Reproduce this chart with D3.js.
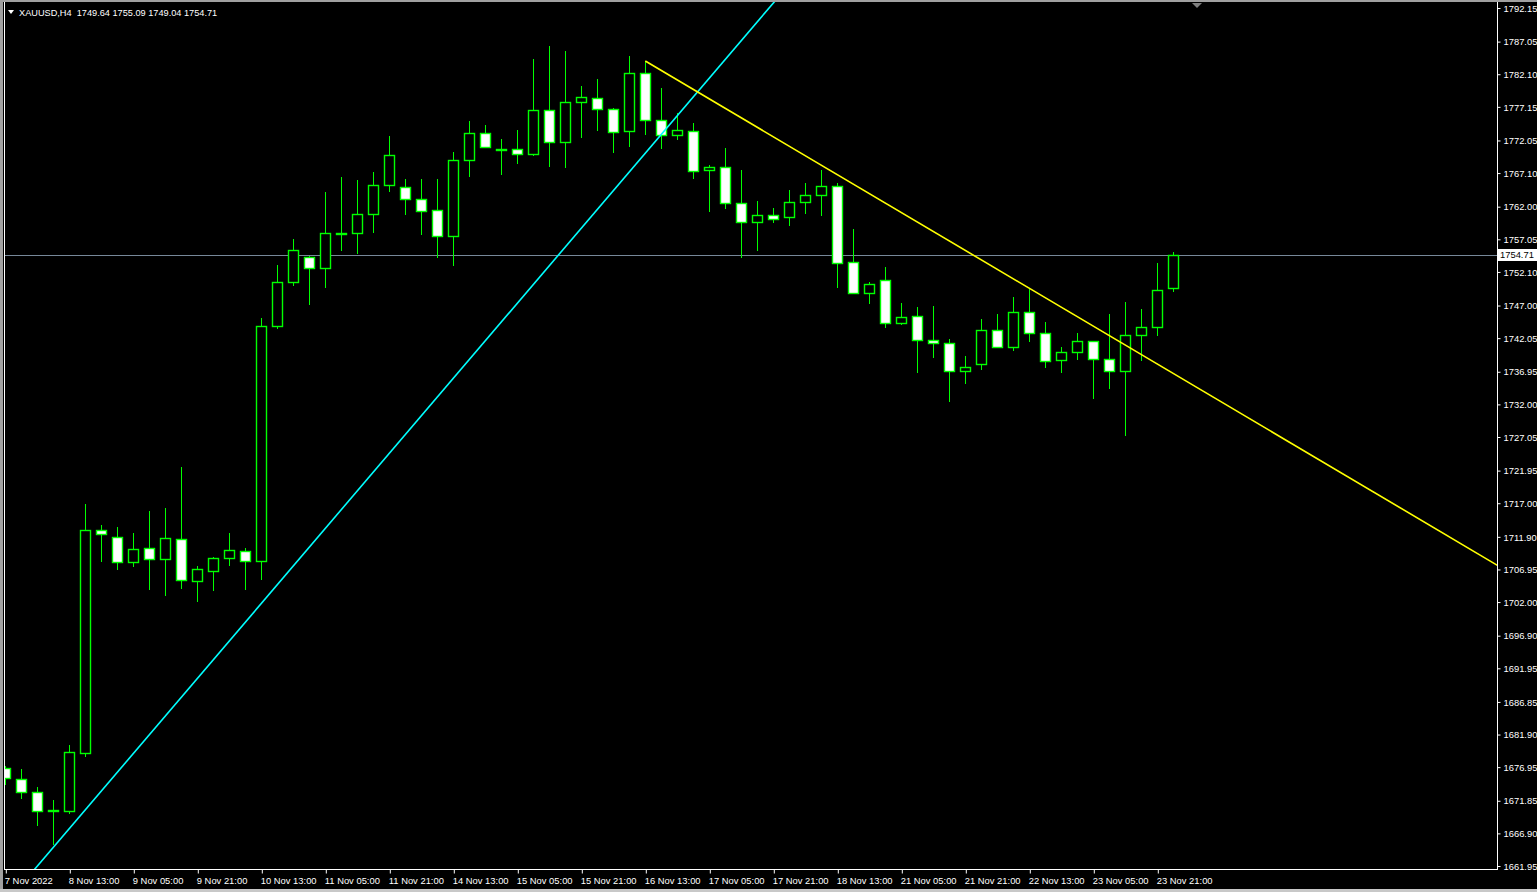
<!DOCTYPE html>
<html><head><meta charset="utf-8">
<script src="https://cdn.jsdelivr.net/npm/d3@7"></script>
<style>html,body{margin:0;padding:0;background:#000;overflow:hidden}svg{display:block}</style>
</head><body><svg id="c" width="1537" height="892"></svg>
<script>
// ---- data ----
const symbolTitle = "XAUUSD,H4";
const lastBar = {open:1749.64, high:1755.09, low:1749.04, close:1754.71};
const times = [
 "7 Nov 21:00",
 "8 Nov 01:00","8 Nov 05:00","8 Nov 09:00","8 Nov 13:00","8 Nov 17:00","8 Nov 21:00",
 "9 Nov 01:00","9 Nov 05:00","9 Nov 09:00","9 Nov 13:00","9 Nov 17:00","9 Nov 21:00",
 "10 Nov 01:00","10 Nov 05:00","10 Nov 09:00","10 Nov 13:00","10 Nov 17:00","10 Nov 21:00",
 "11 Nov 01:00","11 Nov 05:00","11 Nov 09:00","11 Nov 13:00","11 Nov 17:00","11 Nov 21:00",
 "14 Nov 01:00","14 Nov 05:00","14 Nov 09:00","14 Nov 13:00","14 Nov 17:00","14 Nov 21:00",
 "15 Nov 01:00","15 Nov 05:00","15 Nov 09:00","15 Nov 13:00","15 Nov 17:00","15 Nov 21:00",
 "16 Nov 01:00","16 Nov 05:00","16 Nov 09:00","16 Nov 13:00","16 Nov 17:00","16 Nov 21:00",
 "17 Nov 01:00","17 Nov 05:00","17 Nov 09:00","17 Nov 13:00","17 Nov 17:00","17 Nov 21:00",
 "18 Nov 01:00","18 Nov 05:00","18 Nov 09:00","18 Nov 13:00","18 Nov 17:00","18 Nov 21:00",
 "21 Nov 01:00","21 Nov 05:00","21 Nov 09:00","21 Nov 13:00","21 Nov 17:00","21 Nov 21:00",
 "22 Nov 01:00","22 Nov 05:00","22 Nov 09:00","22 Nov 13:00","22 Nov 17:00","22 Nov 21:00",
 "23 Nov 01:00","23 Nov 05:00","23 Nov 09:00","23 Nov 13:00","23 Nov 17:00","23 Nov 21:00",
 "24 Nov 01:00"
];
const opens = [1676.78,1675.11,1673.13,1670.40,1670.34,1679.14,1712.89,1711.83,1708.04,1710.16,
 1708.58,1711.53,1705.15,1706.67,1708.64,1709.71,1708.19,1743.85,1750.53,1754.32,
 1752.65,1758.05,1757.96,1760.84,1765.25,1764.94,1763.12,1761.45,1757.51,1769.04,
 1773.14,1770.80,1770.71,1769.95,1776.63,1771.86,1777.84,1778.45,1776.78,1773.44,
 1782.24,1775.11,1772.83,1773.44,1767.52,1767.98,1762.51,1759.63,1760.78,1760.39,
 1762.67,1763.73,1765.09,1753.56,1748.86,1750.83,1744.30,1745.37,1741.72,1741.27,
 1737.02,1738.08,1743.24,1740.66,1745.97,1742.79,1738.69,1739.90,1741.57,1738.84,
 1737.02,1742.48,1743.70,1749.64];
const highs = [1677.13,1676.67,1673.94,1671.97,1680.31,1716.88,1713.70,1713.39,1712.48,1715.82,
 1716.28,1722.50,1707.48,1708.80,1712.48,1710.16,1745.11,1753.15,1757.10,1754.52,
 1764.23,1766.50,1766.05,1767.22,1772.73,1766.20,1766.20,1766.20,1770.30,1775.00,
 1774.40,1772.27,1773.64,1784.41,1786.38,1785.62,1780.31,1781.38,1776.98,1784.87,
 1784.11,1780.01,1776.22,1774.70,1768.28,1770.86,1767.52,1762.86,1761.80,1764.49,
 1765.59,1767.52,1765.55,1758.61,1750.57,1752.85,1747.38,1746.78,1746.93,1741.92,
 1739.34,1744.96,1745.72,1748.29,1749.62,1744.50,1740.71,1742.83,1741.57,1745.72,
 1747.54,1746.47,1753.45,1755.09];
const lows = [1674.24,1672.07,1668.07,1665.14,1669.80,1678.54,1708.13,1706.91,1707.32,1703.88,
 1702.97,1704.03,1702.06,1703.73,1707.52,1703.88,1705.40,1743.48,1750.01,1747.13,
 1749.71,1755.32,1754.77,1758.05,1764.27,1760.78,1757.75,1754.26,1753.04,1766.46,
 1771.01,1766.85,1768.52,1769.74,1768.07,1767.92,1772.47,1773.53,1770.19,1771.10,
 1772.92,1770.80,1772.16,1766.25,1761.24,1761.60,1754.26,1755.32,1759.57,1759.11,
 1760.94,1760.63,1749.71,1748.86,1747.28,1743.64,1744.09,1736.81,1739.08,1732.41,
 1735.14,1737.26,1740.51,1740.15,1741.51,1737.57,1736.81,1738.78,1732.86,1734.38,
 1727.25,1738.63,1742.42,1749.04];
const closes = [1675.26,1673.22,1670.34,1670.40,1679.20,1712.89,1712.29,1708.04,1710.01,1708.58,
 1711.68,1705.30,1706.97,1708.64,1709.86,1708.19,1743.85,1750.53,1755.38,1752.65,
 1757.96,1758.05,1760.84,1765.25,1769.80,1763.12,1761.30,1757.51,1769.04,1773.14,
 1771.01,1770.80,1769.95,1776.63,1771.86,1777.84,1778.60,1776.78,1773.29,1782.24,
 1775.11,1772.83,1773.59,1767.37,1767.98,1762.51,1759.63,1760.69,1760.09,1762.67,
 1763.73,1765.09,1753.41,1748.86,1750.22,1744.30,1745.21,1741.72,1741.27,1737.02,
 1737.63,1743.24,1740.66,1745.97,1742.79,1738.54,1739.90,1741.57,1738.84,1737.02,
 1742.48,1743.70,1749.31,1754.71];
const yTickLabels = ["1792.15","1787.05","1782.10","1777.15","1772.05","1767.10","1762.00","1757.05",
 "1752.10","1747.00","1742.05","1736.95","1732.00","1727.05","1721.95","1717.00","1711.90","1706.95",
 "1702.00","1696.90","1691.95","1686.85","1681.90","1676.95","1671.85","1666.90","1661.95"];
const xTickTimes = ["7 Nov 21:00","8 Nov 13:00","9 Nov 05:00","9 Nov 21:00","10 Nov 13:00","11 Nov 05:00",
 "11 Nov 21:00","14 Nov 13:00","15 Nov 05:00","15 Nov 21:00","16 Nov 13:00","17 Nov 05:00","17 Nov 21:00",
 "18 Nov 13:00","21 Nov 05:00","21 Nov 21:00","22 Nov 13:00","23 Nov 05:00","23 Nov 21:00"];
const xTickLabels = ["7 Nov 2022","8 Nov 13:00","9 Nov 05:00","9 Nov 21:00","10 Nov 13:00","11 Nov 05:00",
 "11 Nov 21:00","14 Nov 13:00","15 Nov 05:00","15 Nov 21:00","16 Nov 13:00","17 Nov 05:00","17 Nov 21:00",
 "18 Nov 13:00","21 Nov 05:00","21 Nov 21:00","22 Nov 13:00","23 Nov 05:00","23 Nov 21:00"];
// trend lines: anchor points (bar time, price)
const cyanLine = [["8 Nov 09:00",1664.78],["17 Nov 17:00",1790.05]];
const yellowLine = [["16 Nov 13:00",1784.11],["22 Nov 13:00",1749.62]];

// ---- layout ----
const W=1537,H=892;
const L=4, R=1497, T=2, B=869;
const FONT="'Liberation Sans', Arial, sans-serif";
const svg=d3.select("#c");
svg.append("rect").attr("width",W).attr("height",H).attr("fill","#000");

const x=d3.scalePoint().domain(times).range([5.3,5.3+16*(times.length-1)]);
const y=d3.scaleLinear().domain([1661.95,1792.15]).range([866,8]);

svg.append("defs").append("clipPath").attr("id","plot")
  .append("rect").attr("x",L+1).attr("y",T).attr("width",R-L-1).attr("height",B-T);

const g=svg.append("g").attr("clip-path","url(#plot)");

// bid line
g.append("line").attr("x1",L).attr("x2",R)
  .attr("y1",Math.round(y(lastBar.close))+0.5).attr("y2",Math.round(y(lastBar.close))+0.5)
  .attr("stroke","#778899").attr("stroke-width",1);

const bars=times.map((t,i)=>({t,o:opens[i],h:highs[i],l:lows[i],c:closes[i]}));
const GREEN="#00ff00";
const cg=g.append("g");
bars.forEach(d=>{
  const cx=Math.round(x(d.t))+0.5;
  cg.append("line").attr("x1",cx).attr("x2",cx).attr("y1",Math.round(y(d.h))).attr("y2",Math.round(y(d.l)))
    .attr("stroke",GREEN).attr("stroke-width",1);
  const top=Math.round(y(Math.max(d.o,d.c)))+0.5, bot=Math.round(y(Math.min(d.o,d.c)))+0.5;
  const bull=d.c>d.o;
  cg.append("rect").attr("x",cx-5).attr("width",10).attr("y",top).attr("height",Math.max(1,bot-top))
    .attr("fill",bull?"#000":"#fff").attr("stroke",GREEN).attr("stroke-width",1.4);
});

// trend lines
function lineThrough(a,b,extendLeft){
  const x1=x(a[0]),y1=y(a[1]),x2=x(b[0]),y2=y(b[1]);
  const s=(y2-y1)/(x2-x1);
  const xs=extendLeft?-50:x1, xe=R+50;
  return [[xs,y1+s*(xs-x1)],[xe,y1+s*(xe-x1)]];
}
const cy=lineThrough(cyanLine[0],cyanLine[1],true);
g.append("line").attr("x1",cy[0][0]).attr("y1",cy[0][1]).attr("x2",cy[1][0]).attr("y2",cy[1][1])
  .attr("stroke","#00ffff").attr("stroke-width",1.6);
const yl=lineThrough(yellowLine[0],yellowLine[1],false);
g.append("line").attr("x1",yl[0][0]).attr("y1",yl[0][1]).attr("x2",yl[1][0]).attr("y2",yl[1][1])
  .attr("stroke","#ffff00").attr("stroke-width",1.6);

// frame
svg.append("line").attr("x1",R+0.5).attr("x2",R+0.5).attr("y1",T).attr("y2",B+1).attr("stroke","#fff");
svg.append("line").attr("x1",L).attr("x2",R+1).attr("y1",B+0.5).attr("y2",B+0.5).attr("stroke","#fff");
svg.append("line").attr("x1",L+0.5).attr("x2",L+0.5).attr("y1",T).attr("y2",B+1).attr("stroke","#fff");
svg.append("rect").attr("x",0).attr("y",0).attr("width",3).attr("height",H).attr("fill","#a0a0a0");
svg.append("rect").attr("x",0).attr("y",0).attr("width",W).attr("height",2).attr("fill","#a0a0a0");
svg.append("rect").attr("x",0).attr("y",889).attr("width",W).attr("height",3).attr("fill","#c8c8c8");

// right axis
const yAxis=d3.axisRight(y).tickValues(yTickLabels.map(Number)).tickFormat((d,i)=>yTickLabels[i])
  .tickSize(3).tickPadding(3);
const ya=svg.append("g").attr("transform",`translate(${R+0.5},0)`).call(yAxis);
ya.select(".domain").remove();
ya.selectAll("line").attr("stroke","#fff");
ya.selectAll("text").attr("fill","#fff").attr("font-family",FONT).attr("font-size","9.4px").attr("dy","0.34em");

// price label
const py=Math.round(y(lastBar.close));
svg.append("rect").attr("x",R+1).attr("y",py-6).attr("width",W-R-1).attr("height",12).attr("fill","#fff");
svg.append("text").attr("x",R+3).attr("y",py).attr("dy","0.34em").attr("fill","#000")
  .attr("font-family",FONT).attr("font-size","9.4px").text(d3.format(".2f")(lastBar.close));

// bottom axis
const xAxis=d3.axisBottom(x).tickValues(xTickTimes).tickFormat((d,i)=>xTickLabels[i]).tickSize(4).tickPadding(2);
const xa=svg.append("g").attr("transform",`translate(0,${B+0.5})`).call(xAxis);
xa.select(".domain").remove();
xa.selectAll(".tick line").attr("stroke","#fff").attr("transform","translate(0.5,0)");
xa.selectAll("text").attr("fill","#fff").attr("font-family",FONT).attr("font-size","9.4px")
  .attr("text-anchor","start").attr("x",-1).attr("dy","0.9em");

// header
svg.append("path").attr("d","M8,10 L14,10 L11,14 Z").attr("fill","#fff");
svg.append("text").attr("x",19).attr("y",15.5).attr("fill","#fff").attr("font-family",FONT).attr("font-size","9.2px")
  .attr("xml:space","preserve")
  .text(`${symbolTitle}  ${lastBar.open.toFixed(2)} ${lastBar.high.toFixed(2)} ${lastBar.low.toFixed(2)} ${lastBar.close.toFixed(2)}`);
// chart shift marker
svg.append("path").attr("d","M1192,3 L1202,3 L1197,8 Z").attr("fill","#808080");
</script></body></html>
